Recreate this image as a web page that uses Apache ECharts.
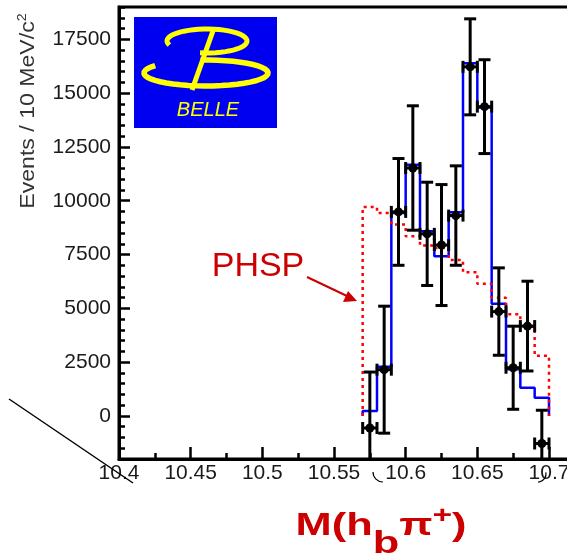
<!DOCTYPE html>
<html>
<head>
<meta charset="utf-8">
<script src="https://cdn.jsdelivr.net/npm/echarts@6/dist/echarts.min.js"></script>
<style>
  html, body { margin: 0; padding: 0; background: #fff; }
  #chart { width: 567px; height: 559px; }
</style>
</head>
<body>
<div id="chart"></div>
<script>
// bin edges of the 10 MeV histogram
const binEdges = [10.57, 10.58, 10.59, 10.60, 10.61, 10.62, 10.63, 10.64, 10.65, 10.66, 10.67, 10.68, 10.69, 10.70]
// fit result (blue) and phase space (red dotted)
const fitValues = [230, 2290, 9430, 11670, 8580, 7420, 9460, 16390, 14330, 5210, 2165, 1315, 850]
const phspValues = [9710, 9430, 8890, 8350, 7920, 7800, 7250, 6680, 6140, 5490, 4720, 4150, 2800]
// data points
const dataX = [10.575, 10.585, 10.595, 10.605, 10.615, 10.625, 10.635, 10.645, 10.655, 10.665, 10.675, 10.685, 10.695]
const dataY = [-560, 2150, 9480, 11520, 8460, 7940, 9310, 16220, 14370, 4850, 2240, 4175, -1280]
const dataErr = [2600, 2950, 2480, 2890, 2400, 2810, 2310, 2230, 2180, 2030, 1930, 2085, 1545]
// tick labels
const yTickLabels = [0, 2500, 5000, 7500, 10000, 12500, 15000, 17500]
const xTickLabels = [10.4, 10.45, 10.5, 10.55, 10.6, 10.65, 10.7]

const X_MIN = 10.4
const X_MAX = 10.73
const Y_MIN = -2000
const Y_MAX = 19000

const FONT = '"Liberation Sans", Arial, sans-serif'
const RED = '#cc0000'
const TICK = '#000'

const stepLine = (values) => {
  const pts = [[binEdges[0], 0]]
  values.forEach((v, i) => {
    pts.push([binEdges[i], v])
    pts.push([binEdges[i + 1], v])
  })
  pts.push([binEdges[values.length], 0])
  return pts
}

// elliptical stroke for the logo "B"
const ellipseArc = (cx, cy, rx, ry, a0, a1) => {
  const pts = []
  const n = 40
  for (let i = 0; i <= n; i++) {
    const a = (a0 + (a1 - a0) * i / n) * Math.PI / 180
    pts.push([cx + rx * Math.cos(a), cy + ry * Math.sin(a)])
  }
  return pts
}

const halfBin = 0.005

const renderPoint = (params, api) => {
  const x = api.value(0)
  const y = api.value(1)
  const e = api.value(2)
  const c = api.coord([x, y])
  const top = api.coord([x, y + e])
  const bot = api.coord([x, y - e])
  const l = api.coord([x - halfBin, y])
  const r = api.coord([x + halfBin, y])
  const cap = 6
  const ls = { stroke: '#000', lineWidth: 3 }
  return {
    type: 'group',
    children: [
      { type: 'line', shape: { x1: c[0], y1: top[1], x2: c[0], y2: bot[1] }, style: ls },
      { type: 'line', shape: { x1: c[0] - cap, y1: top[1], x2: c[0] + cap, y2: top[1] }, style: ls },
      { type: 'line', shape: { x1: c[0] - cap, y1: bot[1], x2: c[0] + cap, y2: bot[1] }, style: ls },
      { type: 'line', shape: { x1: l[0], y1: c[1], x2: r[0], y2: c[1] }, style: ls },
      { type: 'line', shape: { x1: l[0], y1: c[1] - cap, x2: l[0], y2: c[1] + cap }, style: ls },
      { type: 'line', shape: { x1: r[0], y1: c[1] - cap, x2: r[0], y2: c[1] + cap }, style: ls },
      { type: 'circle', shape: { cx: c[0], cy: c[1], r: 4.5 }, style: { fill: '#000' } }
    ]
  }
}

const chart = echarts.init(document.getElementById('chart'))

const option = {
  animation: false,
  grid: {
    left: 119,
    top: 7,
    width: 473,
    height: 452,
    show: true,
    borderColor: '#000',
    borderWidth: 3,
    outerBoundsMode: 'none'
  },
  xAxis: [
    {
      type: 'value',
      min: X_MIN,
      max: X_MAX,
      interval: 0.05,
      axisLine: { show: true, onZero: false, lineStyle: { color: '#000', width: 3 } },
      axisTick: { show: true, inside: true, length: 12, lineStyle: { color: TICK, width: 2.5 } },
      axisLabel: {
        customValues: xTickLabels,
        formatter: (v) => String(parseFloat(Number(v).toFixed(3))),
        fontSize: 21,
        fontFamily: FONT,
        color: '#1a1a1a',
        margin: 4
      },
      splitLine: { lineStyle: { color: 'rgba(0,0,0,0)' } }
    },
    {
      type: 'value',
      min: X_MIN,
      max: X_MAX,
      interval: 0.025,
      position: 'bottom',
      axisLine: { show: false, onZero: false },
      axisTick: { show: true, inside: true, length: 6, lineStyle: { color: TICK, width: 2.5 } },
      axisLabel: { show: false },
      splitLine: { lineStyle: { color: 'rgba(0,0,0,0)' } }
    }
  ],
  yAxis: [
    {
      type: 'value',
      min: Y_MIN,
      max: Y_MAX,
      axisLine: { show: true, onZero: false, lineStyle: { color: '#000', width: 3 } },
      axisTick: { show: true, inside: true, length: 11, customValues: yTickLabels, lineStyle: { color: TICK, width: 2.5 } },
      axisLabel: {
        customValues: yTickLabels,
        formatter: (v) => String(v),
        fontSize: 21,
        fontFamily: FONT,
        color: '#1a1a1a',
        margin: 8
      },
      splitLine: { lineStyle: { color: 'rgba(0,0,0,0)' } }
    },
    {
      type: 'value',
      min: Y_MIN,
      max: Y_MAX,
      interval: 500,
      position: 'left',
      axisLine: { show: false, onZero: false },
      axisTick: { show: true, inside: true, length: 6, lineStyle: { color: TICK, width: 2.5 } },
      axisLabel: { show: false },
      splitLine: { lineStyle: { color: 'rgba(0,0,0,0)' } }
    }
  ],
  series: [
    {
      name: 'fit',
      type: 'line',
      xAxisIndex: 0,
      yAxisIndex: 0,
      data: stepLine(fitValues),
      symbol: 'none',
      lineStyle: { color: '#0000ff', width: 2.5 },
      z: 2
    },
    {
      name: 'PHSP',
      type: 'line',
      xAxisIndex: 0,
      yAxisIndex: 0,
      data: stepLine(phspValues),
      symbol: 'none',
      lineStyle: { color: '#ff0000', width: 2.5, type: [3, 4] },
      z: 3
    },
    {
      name: 'data',
      type: 'custom',
      xAxisIndex: 0,
      yAxisIndex: 0,
      clip: true,
      renderItem: renderPoint,
      data: dataX.map((x, i) => [x, dataY[i], dataErr[i]]),
      z: 4
    }
  ],
  graphic: [
    // Belle logo
    { type: 'rect', shape: { x: 134, y: 17, width: 143, height: 111 }, style: { fill: '#0000f0' }, z: 10 },
    { type: 'polyline', shape: { points: ellipseArc(207, 41, 40, 12, 160, 460) }, style: { stroke: '#ffff00', lineWidth: 5, fill: null }, z: 11 },
    { type: 'polyline', shape: { points: ellipseArc(206, 73, 62, 13, 215, -95) }, style: { stroke: '#ffff00', lineWidth: 5.5, fill: null }, z: 11 },
    { type: 'line', shape: { x1: 214, y1: 28, x2: 192, y2: 90 }, style: { stroke: '#ffff00', lineWidth: 5 }, z: 11 },
    {
      type: 'text', x: 208, y: 110, z: 11,
      style: { text: 'BELLE', fill: '#ffff00', font: 'italic 20px ' + FONT, align: 'center', verticalAlign: 'middle' }
    },
    // PHSP label with arrow
    {
      type: 'text', x: 258, y: 267, z: 10,
      style: { text: 'PHSP', fill: RED, font: '34px ' + FONT, align: 'center', verticalAlign: 'middle' }
    },
    { type: 'line', shape: { x1: 307, y1: 277, x2: 347, y2: 296 }, style: { stroke: RED, lineWidth: 2 }, z: 10 },
    { type: 'polygon', shape: { points: [[357, 301], [343, 302], [348, 291]] }, style: { fill: RED }, z: 10 },
    // stray diagonal line
    { type: 'line', shape: { x1: 9, y1: 399, x2: 133, y2: 483 }, style: { stroke: '#000', lineWidth: 1.5 }, z: 10 },
    { type: 'arc', shape: { cx: 383, cy: 472, r: 10, startAngle: Math.PI / 2, endAngle: Math.PI }, style: { stroke: '#000', lineWidth: 1.2, fill: null }, z: 10 },
    { type: 'arc', shape: { cx: 538, cy: 474, r: 8, startAngle: -0.2, endAngle: Math.PI / 2 }, style: { stroke: '#000', lineWidth: 1.2, fill: null }, z: 10 },
    // y axis title
    {
      type: 'text', x: 28, y: 111, rotation: Math.PI / 2, scaleX: 1.1, z: 10,
      style: {
        text: 'Events / 10 MeV/c{sup|2}',
        fill: '#333',
        font: '21px ' + FONT,
        align: 'center',
        verticalAlign: 'middle',
        rich: { sup: { fontSize: 13, fontFamily: FONT, fill: '#333', padding: [0, 0, 12, 0] } }
      }
    },
    // x axis title
    {
      type: 'text', x: 381, y: 526, scaleX: 1.4, z: 10,
      style: {
        text: 'M(h{sub|b}π{sup|+})',
        fill: RED,
        font: 'bold 31px ' + FONT,
        align: 'center',
        verticalAlign: 'middle',
        rich: {
          sub: { fontSize: 31, fontWeight: 'bold', fontFamily: FONT, fill: RED, padding: [36, 0, 0, 0] },
          sup: { fontSize: 24, fontWeight: 'bold', fontFamily: FONT, fill: RED, padding: [0, 0, 20, 0] }
        }
      }
    }
  ]
}

chart.setOption(option)
</script>
</body>
</html>
